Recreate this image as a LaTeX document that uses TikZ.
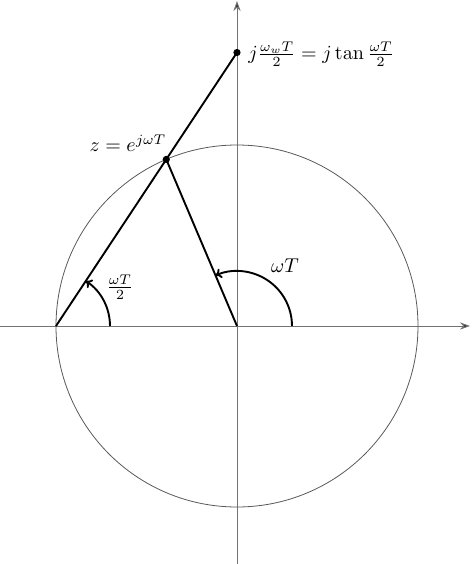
\documentclass[tikz,border=0pt]{standalone}
\usetikzlibrary{arrows.meta}
\begin{document}
\begin{tikzpicture}[x=0.5pt,y=0.5pt,
  axis/.style={draw=black!55,line width=0.45pt,-{Stealth[length=5pt,width=3.6pt,fill=black!80]}},
  circ/.style={draw=black!65,line width=0.4pt},
  thk/.style={draw=black,line width=0.95pt},
  arcarrow/.style={thk,-{To[length=3pt,width=5pt]}},
  dot/.style={circle,fill=black,inner sep=0pt,minimum size=3.6pt}]
\useasboundingbox (-237,-238) rectangle (237,326);
\coordinate (O) at (0,0);
\coordinate (L) at (-181,0);
\coordinate (Z) at (113:181);
\coordinate (T) at (0,273.5);
\coordinate (xl) at (-237,0);
\coordinate (xr) at (233,0);
\coordinate (yb) at (0,-238);
\coordinate (yt) at (0,325);
\coordinate (a1) at (55,0);
\coordinate (a2) at (-127,0);
\draw[axis] (xl) -- (xr);
\draw[axis] (yb) -- (yt);
\draw[circ] (O) circle[radius=181];
\draw[thk] (L) -- (T);
\draw[thk] (O) -- (Z);
\draw[arcarrow] (a1) arc[start angle=0,end angle=113,radius=55];
\draw[arcarrow] (a2) arc[start angle=0,end angle=56.5,radius=54];
\node[dot] (zd) at (Z) {};
\node[dot] (td) at (T) {};
\node[anchor=west,inner sep=1pt] (tl) at (9,272) {$j\frac{\omega_w T}{2} = j\tan\frac{\omega T}{2}$};
\node (zl) at (-109,183) {$z = e^{j\omega T}$};
\node (wl) at (48,60) {$\omega T$};
\node (hl) at (-117,39) {$\frac{\omega T}{2}$};
\end{tikzpicture}
\end{document}
